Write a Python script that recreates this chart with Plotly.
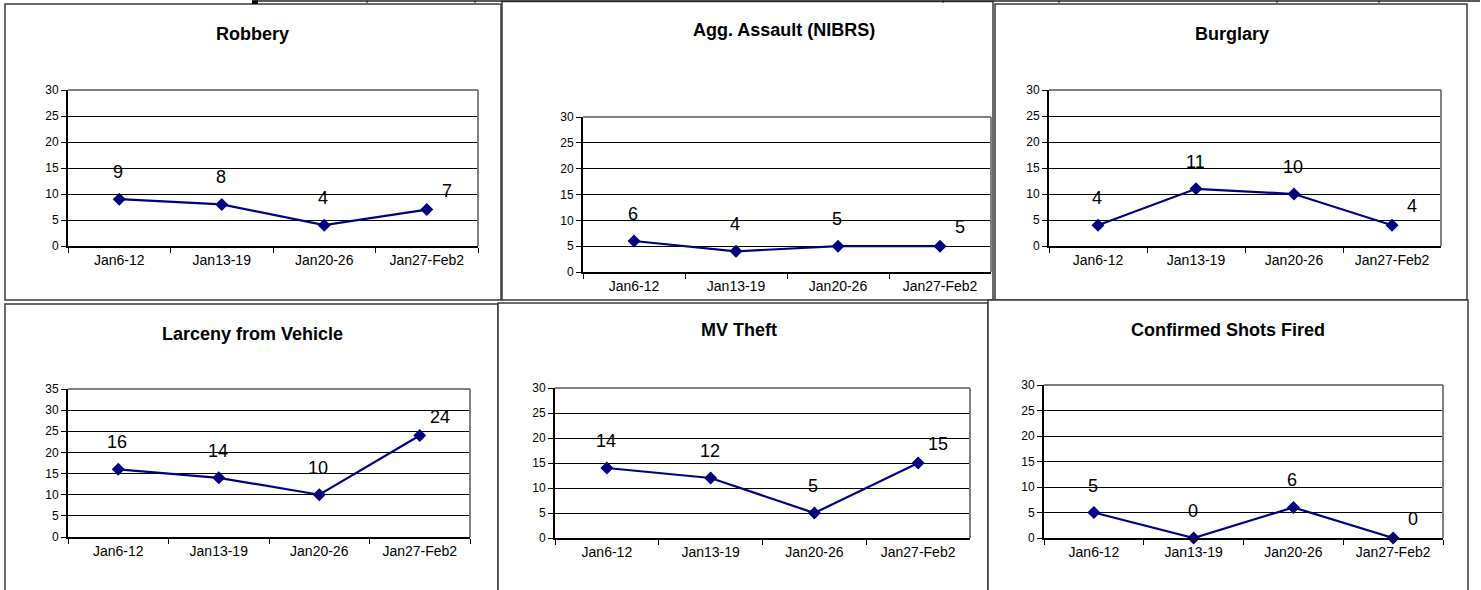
import plotly.graph_objects as go

W, H = 1481, 590

# ---------------- data ----------------
categories = ["Jan6-12", "Jan13-19", "Jan20-26", "Jan27-Feb2"]
titles = ["Robbery", "Agg. Assault (NIBRS)", "Burglary",
          "Larceny from Vehicle", "MV Theft", "Confirmed Shots Fired"]
robbery = [9, 8, 4, 7]
agg_assault = [6, 4, 5, 5]
burglary = [4, 11, 10, 4]
larceny_vehicle = [16, 14, 10, 24]
mv_theft = [14, 12, 5, 15]
shots_fired = [5, 0, 6, 0]
y_max = [30, 30, 30, 35, 30, 30]
series = [robbery, agg_assault, burglary, larceny_vehicle, mv_theft, shots_fired]

# ---------------- layout in pixels ----------------
plot_boxes = [(68, 478, 90, 246), (583, 991, 117, 272), (1049, 1441, 90, 246),
              (68, 470, 389, 537), (555, 970, 388, 538), (1044, 1443, 385, 538)]
title_pos = [(252, 34), (784, 30), (1232, 34), (252, 334), (739, 330), (1228, 330)]
frames = [(5, 501, 4, 300), (502, 993, 1.5, 300), (995, 1467, 4, 300),
          (5, 498, 304, 595), (498, 988, 303, 595), (988, 1468, 300, 595)]

FONT = "Arial, 'Liberation Sans', sans-serif"
NAVY = "#000080"


def px(x):
    return x / W


def py(y):
    return 1 - y / H


fig = go.Figure()
shapes = []
annotations = []

for (x0, x1, y0, y1) in frames:
    shapes.append(dict(type="rect", xref="paper", yref="paper",
                       x0=px(x0), x1=px(x1), y0=py(y1), y1=py(y0),
                       line=dict(color="#3a3a3a", width=1.5),
                       fillcolor="white", layer="below"))

shapes.append(dict(type="line", xref="paper", yref="paper",
                   x0=px(252), x1=px(1480), y0=py(1), y1=py(1),
                   line=dict(color="#222", width=1.5), layer="above"))
for xv in [367, 475, 943, 1059, 1277, 1379]:
    shapes.append(dict(type="line", xref="paper", yref="paper",
                       x0=px(xv), x1=px(xv), y0=py(0.5), y1=py(3),
                       line=dict(color="#222", width=1), layer="above"))
shapes.append(dict(type="rect", xref="paper", yref="paper",
                   x0=px(252), x1=px(258), y0=py(4), y1=py(0.5),
                   fillcolor="black", line=dict(width=0), layer="above"))

for i, vals in enumerate(series):
    n = i + 1
    xa = "x" if n == 1 else f"x{n}"
    ya = "y" if n == 1 else f"y{n}"
    x0, x1, yt, yb = plot_boxes[i]

    fig.add_trace(go.Scatter(
        x=categories, y=vals, xaxis=xa, yaxis=ya, mode="lines+markers",
        line=dict(color=NAVY, width=2.2),
        marker=dict(symbol="diamond", size=10, color=NAVY),
        cliponaxis=False, showlegend=False, hoverinfo="x+y"))

    xkey = "xaxis" if n == 1 else f"xaxis{n}"
    ykey = "yaxis" if n == 1 else f"yaxis{n}"
    fig.update_layout(**{
        xkey: dict(domain=[px(x0), px(x1)], anchor=ya, type="category",
                   categoryorder="array", categoryarray=categories,
                   range=[-0.5, 3.5], tickson="boundaries", automargin=False,
                   ticks="outside", ticklen=5, tickcolor="black", tickwidth=1,
                   showline=True, linecolor="black", linewidth=2,
                   showgrid=False, zeroline=False, fixedrange=True,
                   tickfont=dict(family=FONT, size=14, color="black")),
        ykey: dict(domain=[py(yb), py(yt)], anchor=xa, automargin=False,
                   range=[0, y_max[i]], dtick=5, tick0=0,
                   ticks="outside", ticklen=5, tickcolor="black", tickwidth=1,
                   showline=True, linecolor="black", linewidth=2,
                   showgrid=True, gridcolor="black", gridwidth=1,
                   zeroline=False, fixedrange=True,
                   tickfont=dict(family=FONT, size=12, color="black")),
    })

    shapes.append(dict(type="line", xref="paper", yref="paper",
                       x0=px(x0), x1=px(x1), y0=py(yt), y1=py(yt),
                       line=dict(color="#808080", width=2), layer="above"))
    shapes.append(dict(type="line", xref="paper", yref="paper",
                       x0=px(x1), x1=px(x1), y0=py(yt), y1=py(yb),
                       line=dict(color="#808080", width=2), layer="above"))

    tx, ty = title_pos[i]
    annotations.append(dict(text=f"<b>{titles[i]}</b>", xref="paper", yref="paper",
                            x=px(tx), y=py(ty), xanchor="center", yanchor="middle",
                            showarrow=False,
                            font=dict(family=FONT, size=18, color="black")))

    for j, v in enumerate(vals):
        if j == len(vals) - 1:
            xs, ys = 20, 19
        else:
            xs, ys = -1, 27
        annotations.append(dict(text=str(v), xref=xa, yref=ya, x=categories[j], y=v,
                                xshift=xs, yshift=ys, showarrow=False,
                                xanchor="center", yanchor="middle",
                                font=dict(family=FONT, size=18, color="black")))

fig.update_layout(width=W, height=H,
                  margin=dict(l=0, r=0, t=0, b=0, pad=0, autoexpand=False),
                  paper_bgcolor="white", plot_bgcolor="white",
                  shapes=shapes, annotations=annotations, showlegend=False)

post = (
    "var s=document.documentElement.style; s.margin='0'; s.padding='0'; s.overflow='hidden';"
    "var b=document.body.style; b.margin='0'; b.padding='0'; b.overflow='hidden';"
)
fig.write_html("out.html", config={"displayModeBar": False}, post_script=post)
